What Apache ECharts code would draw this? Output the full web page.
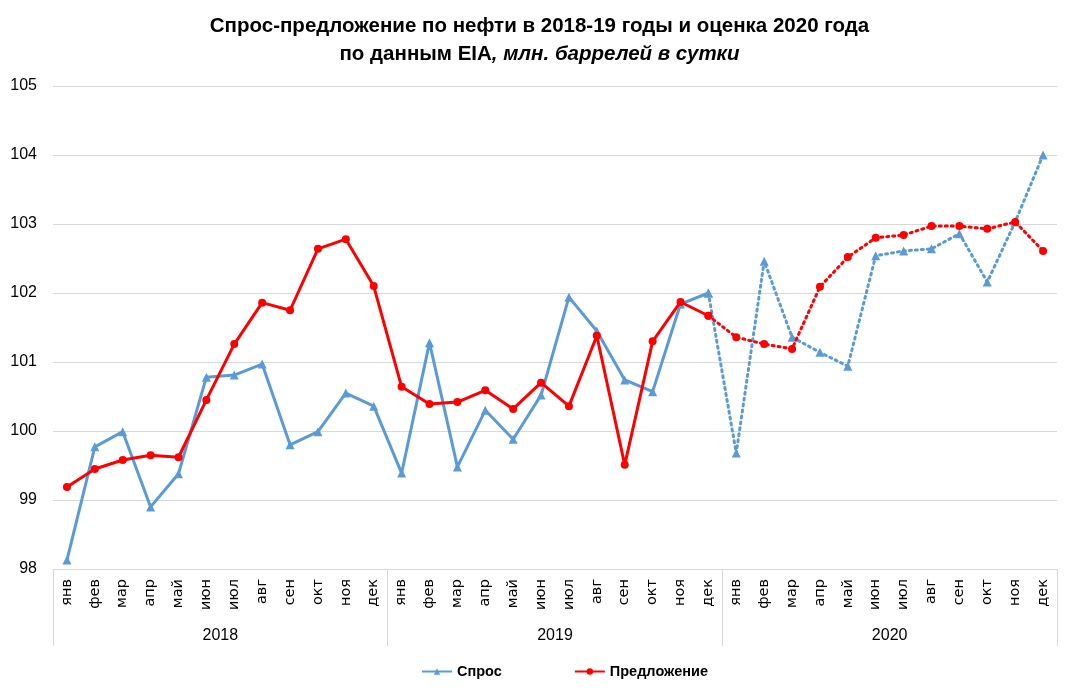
<!DOCTYPE html>
<html>
<head>
<meta charset="utf-8">
<script src="https://cdn.jsdelivr.net/npm/echarts@6/dist/echarts.min.js"></script>
<style>html,body{margin:0;padding:0;background:#fff}#c{width:1079px;height:691px}</style>
</head>
<body>
<div id="c"></div>
<script>
const months = ['янв','фев','мар','апр','май','июн','июл','авг','сен','окт','ноя','дек'];
const years = ['2018','2019','2020'];
const categories = [].concat(months, months, months);
const demand = [
  98.13, 99.77, 99.99, 98.90, 99.38, 100.78, 100.81, 100.97, 99.80, 99.99, 100.55, 100.36,
  99.39, 101.28, 99.48, 100.30, 99.88, 100.52, 101.94, 101.45, 100.74, 100.57, 101.84, 102.00,
  99.68, 102.46, 101.36, 101.14, 100.94, 102.54, 102.61, 102.64, 102.86, 102.16, 103.03, 104.00
];
const supply = [
  99.19, 99.45, 99.58, 99.65, 99.62, 100.45, 101.26, 101.86, 101.75, 102.64, 102.78, 102.10,
  100.64, 100.39, 100.42, 100.59, 100.32, 100.70, 100.36, 101.38, 99.51, 101.30, 101.87, 101.67,
  101.36, 101.26, 101.19, 102.09, 102.52, 102.80, 102.84, 102.97, 102.97, 102.93, 103.03, 102.61
];
const yTicks = {min: 98, max: 105, interval: 1};
const forecastStart = 23; // dec 2019 joins the dotted forecast line

const FONT = "'Liberation Sans', Arial, sans-serif";
const solid = arr => arr.map((v, i) => i <= forecastStart ? v : null);
const dotted = arr => arr.map((v, i) => i >= forecastStart ? v : null);

const BLUE = '#5b9bd5', RED = '#ff0000', GRID = '#d9d9d9';
const chart = echarts.init(document.getElementById('c'), null, {renderer: 'canvas'});
chart.setOption({
  animation: false,
  title: {
    left: 'center', top: 7,
    text: '{b|Спрос-предложение по нефти в 2018-19 годы и оценка 2020 года}\n{b|по данным EIA}{i|, млн. баррелей в сутки}',
    textStyle: {
      rich: {
        b: {fontFamily: FONT, fontWeight: 'bold', fontSize: 20.5, color: '#000', lineHeight: 28},
        i: {fontFamily: FONT, fontStyle: 'italic', fontSize: 20.5, color: '#000', lineHeight: 28}
      }
    }
  },
  legend: {
    data: ['Спрос', 'Предложение'],
    bottom: 7, left: 416,
    itemWidth: 30, itemHeight: 8, itemGap: 72,
    textStyle: {fontFamily: FONT, fontWeight: 'bold', fontSize: 14.5, color: '#000'}
  },
  grid: {left: 53, right: 22, top: 86, bottom: 122, containLabel: false},
  xAxis: [
    {
      type: 'category', data: categories, boundaryGap: true,
      axisLine: {lineStyle: {color: GRID, width: 1}},
      axisTick: {show: false},
      axisLabel: {rotate: 90, interval: 0, margin: 10, fontFamily: "'DejaVu Sans', sans-serif", fontSize: 14.5, color: '#000'}
    },
    {
      type: 'category', data: years, position: 'bottom', boundaryGap: true,
      axisLine: {show: false},
      axisTick: {show: true, length: 77, lineStyle: {color: GRID}},
      axisLabel: {margin: 59, fontFamily: FONT, fontSize: 16, color: '#000'}
    }
  ],
  yAxis: {
    type: 'value', min: yTicks.min, max: yTicks.max, interval: yTicks.interval,
    axisLine: {show: false}, axisTick: {show: false},
    splitLine: {lineStyle: {color: GRID, width: 1}},
    axisLabel: {margin: 16, fontFamily: FONT, fontSize: 16, color: '#000'}
  },
  series: [
    {name: 'Спрос', type: 'line', data: solid(demand), xAxisIndex: 0,
     symbol: 'triangle', symbolSize: 9, color: BLUE,
     lineStyle: {color: BLUE, width: 3}, itemStyle: {color: BLUE}, z: 2},
    {name: 'Предложение', type: 'line', data: solid(supply), xAxisIndex: 0,
     symbol: 'circle', symbolSize: 8, color: RED,
     lineStyle: {color: RED, width: 3}, itemStyle: {color: RED}, z: 3},
    {name: 'Спрос', type: 'line', data: dotted(demand), xAxisIndex: 0,
     symbol: 'triangle', symbolSize: 9, color: BLUE,
     lineStyle: {color: BLUE, width: 3, type: [2, 4], cap: 'round'}, itemStyle: {color: BLUE}, z: 2},
    {name: 'Предложение', type: 'line', data: dotted(supply), xAxisIndex: 0,
     symbol: 'circle', symbolSize: 8, color: RED,
     lineStyle: {color: RED, width: 3, type: [2, 4], cap: 'round'}, itemStyle: {color: RED}, z: 3}
  ]
});
</script>
</body>
</html>
